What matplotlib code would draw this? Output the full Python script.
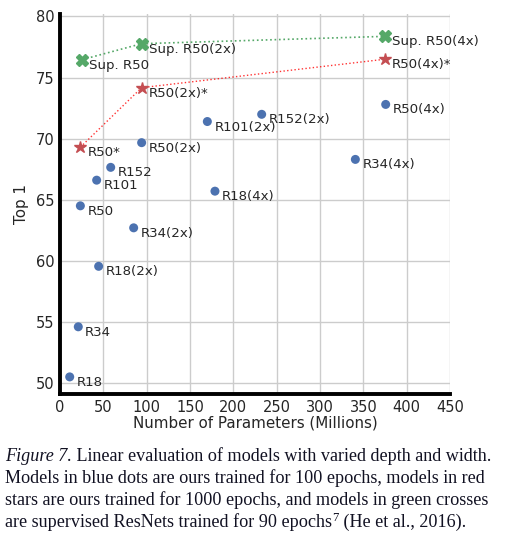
import matplotlib
matplotlib.use('Agg')
import matplotlib.pyplot as plt

# blue dots: ours, 100 epochs
blue_names = ['R18', 'R34', 'R50', 'R101', 'R152', 'R18(2x)', 'R34(2x)', 'R50(2x)',
              'R101(2x)', 'R152(2x)', 'R18(4x)', 'R34(4x)', 'R50(4x)']
blue_params = [11.2, 21.1, 23.5, 42.3, 58.5, 44.6, 85.0, 94.2, 170.0, 232.7, 178.8, 340.8, 375.8]
blue_top1 = [50.5, 54.6, 64.5, 66.6, 67.65, 59.55, 62.7, 69.67, 71.4, 71.99, 65.7, 68.3, 72.8]

# red stars: ours, 1000 epochs
red_names = ['R50*', 'R50(2x)*', 'R50(4x)*']
red_params = [23.5, 94.2, 375.0]
red_top1 = [69.3, 74.17, 76.5]

# green crosses: supervised
green_names = ['Sup. R50', 'Sup. R50(2x)', 'Sup. R50(4x)']
green_params = [25.8, 94.2, 375.0]
green_top1 = [76.47, 77.77, 78.37]

caption_lines = [
    [('Figure 7.', 'italic', False), (' Linear evaluation of models with varied depth and width.', 'normal', False)],
    [('Models in blue dots are ours trained for 100 epochs, models in red', 'normal', False)],
    [('stars are ours trained for 1000 epochs, and models in green crosses', 'normal', False)],
    [('are supervised ResNets trained for 90 epochs', 'normal', False), ('7', 'normal', True),
     (' (He et al., 2016).', 'normal', False)],
]

blue = '#4C72B0'
red = '#C44E52'
green = '#55A868'
txt = '#262626'

fig = plt.figure(figsize=(5.1, 5.39), dpi=100)
ax = fig.add_axes([60 / 510, 1 - 394 / 539, 390 / 510, (394 - 14) / 539])

ax.plot(green_params, green_top1, linestyle=':', color=green, linewidth=1.2, zorder=2)
ax.plot(red_params, red_top1, linestyle=':', color='red', linewidth=1.0, alpha=0.8, zorder=2)

ax.scatter(blue_params, blue_top1, s=42, color=blue, zorder=3, edgecolors='none')
ax.plot(red_params, red_top1, linestyle='none', marker='*', markersize=9, color=red, zorder=3)
ax.plot(green_params, green_top1, linestyle='none', marker='X', markersize=8.5, color=green, zorder=3)

for names, xs, ys in [(blue_names, blue_params, blue_top1),
                      (red_names, red_params, red_top1),
                      (green_names, green_params, green_top1)]:
    for n, x, y in zip(names, xs, ys):
        ax.annotate(n, (x, y), xytext=(5, -4), textcoords='offset points',
                    ha='left', va='center', fontsize=9.6, color=txt, zorder=4)

ax.set_xlim(0, 450)
ax.set_ylim(49.1, 80.2)
ax.set_xticks(range(0, 451, 50))
ax.set_yticks(range(50, 81, 5))
ax.grid(True, color='#cccccc', linewidth=1.0)
ax.set_axisbelow(True)
for s in ['top', 'right']:
    ax.spines[s].set_visible(False)
for s in ['left', 'bottom']:
    ax.spines[s].set_linewidth(2.8)
    ax.spines[s].set_color('black')
ax.tick_params(length=0, labelsize=10.5, labelcolor=txt, pad=4)
ax.set_xlabel('Number of Parameters (Millions)', fontsize=10.9, color=txt, labelpad=1)
ax.set_ylabel('Top 1', fontsize=10.9, color=txt, labelpad=5)

# caption in serif font, drawn piece by piece
fig.canvas.draw()
r = fig.canvas.get_renderer()
fs = 13.05
ybase = [461, 483, 505, 527]
for line, yb in zip(caption_lines, ybase):
    x = 5
    for piece, style, sup in line:
        t = fig.text(x / 510, 1 - (yb - (6 if sup else 0)) / 539, piece,
                     fontsize=fs * (0.7 if sup else 1), style=style,
                     family='Liberation Serif', color='#111122', va='baseline', ha='left')
        x = t.get_window_extent(r).x1 + 0.5

fig.savefig('out.png', dpi=100)
